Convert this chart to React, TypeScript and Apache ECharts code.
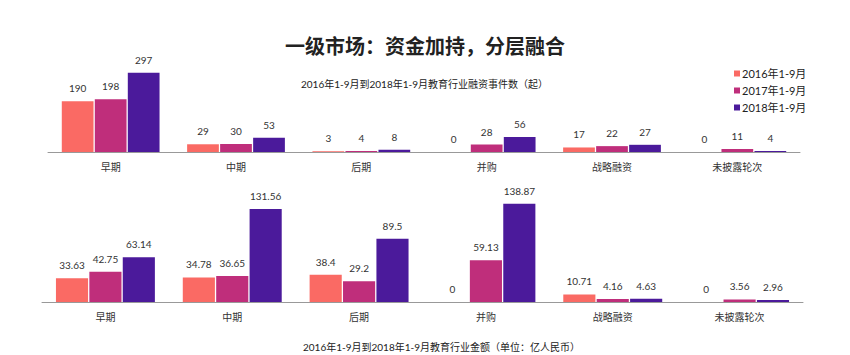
import React, { useEffect, useRef } from "react";
import * as echarts from "echarts";

const categories = ["早期", "中期", "后期", "并购", "战略融资", "未披露轮次"];
const seriesNames = ["2016年1-9月", "2017年1-9月", "2018年1-9月"];
const countData2016 = [190, 29, 3, 0, 17, 0];
const countData2017 = [198, 30, 4, 28, 22, 11];
const countData2018 = [297, 53, 8, 56, 27, 4];
const amountData2016 = [33.63, 34.78, 38.4, 0, 10.71, 0];
const amountData2017 = [42.75, 36.65, 29.2, 59.13, 4.16, 3.56];
const amountData2018 = [63.14, 131.56, 89.5, 138.87, 4.63, 2.96];
const colors = ["#FA6A64", "#BF2E7B", "#4B1A9B"];

const FONT = "Lato, 'Noto Sans CJK SC', sans-serif";

export default function App() {
  const ref = useRef<HTMLDivElement>(null);
  useEffect(() => {
    if (!ref.current) return;
    const chart = echarts.init(ref.current, undefined, { renderer: "svg" });
    const label = {
      show: true,
      position: "top" as const,
      distance: 8,
      color: "#333",
      fontSize: 10,
      fontFamily: FONT,
    };
    const mk = (name: string, data: number[], idx: number, ci: number) => ({
      name,
      type: "bar",
      xAxisIndex: idx,
      yAxisIndex: idx,
      data,
      barCategoryGap: "22%",
      barGap: "4%",
      itemStyle: { color: colors[ci] },
      label,
    });
    const xAxisBase = {
      type: "category",
      data: categories,
      axisTick: { show: false },
      axisLine: { lineStyle: { color: "#999", width: 1 } },
      axisLabel: { color: "#333", fontSize: 10, fontFamily: FONT, margin: 10 },
    };
    chart.setOption({
      animation: false,
      backgroundColor: "#fff",
      title: [
        {
          text: "一级市场：资金加持，分层融合",
          left: "center",
          top: 31,
          textStyle: { fontSize: 20, fontWeight: "bold", color: "#222", fontFamily: FONT },
        },
        {
          text: "2016年1-9月到2018年1-9月教育行业融资事件数（起）",
          left: 296,
          top: 74,
          textStyle: { fontSize: 10, fontWeight: "normal", color: "#222", fontFamily: FONT },
        },
        {
          text: "2016年1-9月到2018年1-9月教育行业金额（单位：亿人民币）",
          left: 298,
          top: 337,
          textStyle: { fontSize: 10, fontWeight: "normal", color: "#222", fontFamily: FONT },
        },
      ],
      legend: {
        data: seriesNames,
        orient: "vertical",
        left: 729,
        top: 63,
        itemWidth: 6,
        itemHeight: 6,
        itemGap: 6,
        icon: "rect",
        textStyle: { fontSize: 11, color: "#222", fontFamily: FONT, padding: [0, 0, 0, -3] },
      },
      grid: [
        { left: 48, right: 50, top: 72, height: 80 },
        { left: 42, right: 47, top: 203, height: 99 },
      ],
      xAxis: [
        { ...xAxisBase, gridIndex: 0 },
        { ...xAxisBase, gridIndex: 1 },
      ],
      yAxis: [
        { type: "value", gridIndex: 0, min: 0, max: 300, show: false },
        { type: "value", gridIndex: 1, min: 0, max: 140, show: false },
      ],
      series: [
        mk(seriesNames[0], countData2016, 0, 0),
        mk(seriesNames[1], countData2017, 0, 1),
        mk(seriesNames[2], countData2018, 0, 2),
        mk(seriesNames[0], amountData2016, 1, 0),
        mk(seriesNames[1], amountData2017, 1, 1),
        mk(seriesNames[2], amountData2018, 1, 2),
      ],
    });
    return () => chart.dispose();
  }, []);
  return (
    <div
      ref={ref}
      style={{ position: "fixed", left: 0, top: 0, width: 850, height: 355 }}
    />
  );
}
